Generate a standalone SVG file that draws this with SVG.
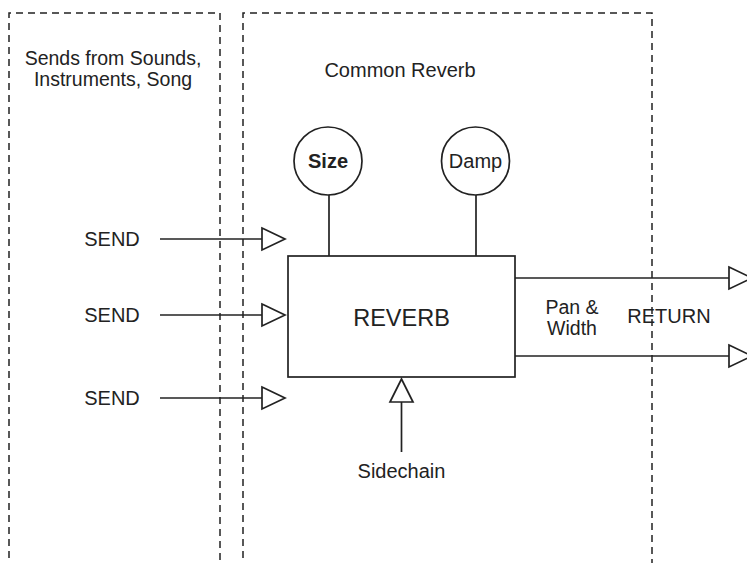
<svg xmlns="http://www.w3.org/2000/svg" width="747" height="563" viewBox="0 0 747 563">
<style>
.dash{fill:none;stroke:#222;stroke-width:1.5;stroke-dasharray:7 5}
.ln{fill:none;stroke:#222;stroke-width:1.7}
.hd{fill:#fff;stroke:#222;stroke-width:1.7}
.box{fill:#fff;stroke:#222;stroke-width:1.7}
text{font-family:"Liberation Sans",Arial,sans-serif;fill:#222;text-anchor:middle}
.t{font-size:20px}
.s{font-size:19.5px}
.b{font-size:20px;font-weight:bold}
.big{font-size:23.5px}
</style>
<rect width="747" height="563" fill="#fff"/>
<g id="group-sends">
<path class="dash" d="M9,570 V13 H220 V570"/>
<text class="s" x="113" y="65">Sends from Sounds,</text>
<text class="s" x="113" y="85.5">Instruments, Song</text>
</g>
<g id="group-common-reverb">
<path class="dash" d="M243,570 V13 H652 V570"/>
<text class="t" x="400" y="77">Common Reverb</text>
</g>
<g id="connectors">
<line class="ln" x1="160" y1="239" x2="262" y2="239"/>
<polygon class="hd" points="262,228 285,239 262,250"/>
<line class="ln" x1="160" y1="315" x2="262" y2="315"/>
<polygon class="hd" points="262,304 285,315 262,326"/>
<line class="ln" x1="160" y1="398" x2="262" y2="398"/>
<polygon class="hd" points="262,387 285,398 262,409"/>
<line class="ln" x1="329" y1="195" x2="329" y2="256"/>
<line class="ln" x1="476" y1="195" x2="476" y2="256"/>
<line class="ln" x1="515" y1="278" x2="729" y2="278"/>
<polygon class="hd" points="729,267 752,278 729,289"/>
<line class="ln" x1="515" y1="356" x2="729" y2="356"/>
<polygon class="hd" points="729,345 752,356 729,367"/>
<line class="ln" x1="401.5" y1="452" x2="401.5" y2="402"/>
<polygon class="hd" points="390,402 401.5,379 413,402"/>
</g>
<g id="node-size">
<circle class="box" cx="328" cy="161" r="34"/>
<text class="b" x="328" y="168">Size</text>
</g>
<g id="node-damp">
<circle class="box" cx="475.5" cy="161" r="34"/>
<text class="t" x="475.5" y="168">Damp</text>
</g>
<g id="node-reverb">
<rect class="box" x="288" y="256" width="227" height="121"/>
<text class="big" x="401.5" y="326">REVERB</text>
</g>
<g id="labels">
<text class="t" x="112" y="246">SEND</text>
<text class="t" x="112" y="322">SEND</text>
<text class="t" x="112" y="405">SEND</text>
<text class="s" x="572" y="313.5">Pan &amp;</text>
<text class="s" x="572" y="335">Width</text>
<text class="t" x="669" y="323">RETURN</text>
<text class="t" x="401.5" y="478">Sidechain</text>
</g>
</svg>
